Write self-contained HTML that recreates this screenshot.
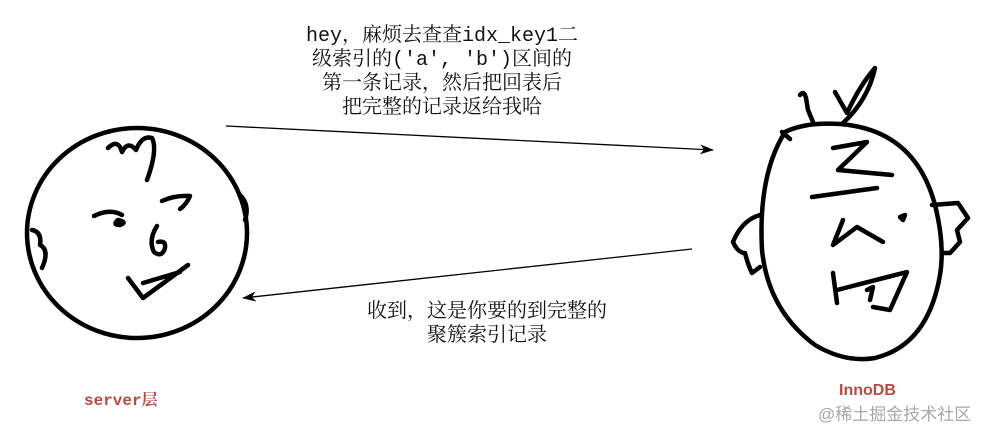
<!DOCTYPE html>
<html><head><meta charset="utf-8"><style>
body{margin:0;width:994px;height:437px;background:#fff;overflow:hidden;position:relative}
.t{position:absolute;font-family:"Liberation Mono","Noto Serif CJK SC",serif;font-size:20px;line-height:24px;color:#111;text-align:center;white-space:nowrap}
.l{position:absolute;font-family:"Liberation Mono","Noto Sans CJK SC",monospace;font-weight:bold;color:#b84a40;font-size:16px}
</style></head><body>
<svg width="994" height="437" style="position:absolute;left:0;top:0">
<defs><marker id="a" markerWidth="14" markerHeight="10" refX="13" refY="5" orient="auto" markerUnits="userSpaceOnUse"><path d="M0,0 L14,5 L0,10 L4,5 z" fill="#000"/></marker></defs>
<g fill="none" stroke="#000" stroke-width="4.5" stroke-linecap="round" stroke-linejoin="round">
<ellipse cx="137" cy="233" rx="110" ry="105"/>
<path d="M108,148 Q118,138 122,152 Q128,140 136,150 Q142,135 152,138 Q158,150 147,180"/>
<path d="M94,216 Q110,208 122,215 M118,220 Q112,225 120,225 Q128,222 118,220"/>
<path d="M162,201 Q175,195 190,196 Q186,205 180,209"/>
<path d="M157,226 Q148,240 154,252 Q162,258 165,248 Q166,240 158,242"/>
<path d="M128,278 L143,298 L188,265 M143,283 L180,272"/>
<path d="M32,230 Q42,232 40,245 Q50,250 42,268"/>
<path d="M240,195 Q250,205 245,220"/>
<path d="M785,132 Q805,122 840,124 Q915,130 935,205 Q945,245 940,275 Q928,345 875,358 Q845,363 815,345 Q768,310 762,250 Q758,175 785,132 Z"/>
<path d="M800,95 Q804,90 806,98 L808,110 L813,122"/>
<path d="M782,132 L790,139"/>
<path d="M835,92 L847,113 Q860,85 875,68 Q868,100 843,123"/>
<path d="M833,148 L867,142 L838,170 L892,175"/>
<path d="M812,197 L877,188"/>
<path d="M843,220 L833,245 L857,227 L883,242"/>
<path d="M900,217 L905,215 L903,220 Z"/>
<path d="M833,273 L837,303 M837,290 L907,272 L890,310 L873,307"/>
<path d="M867,290 L873,287 L870,300"/>
<path d="M760,215 Q742,220 733,242 Q738,253 745,253 Q748,265 752,273 L760,267"/>
<path d="M932,205 L958,203 L968,218 L957,230 L960,242 L950,253 L943,253"/>
</g>
<g stroke="#000" stroke-width="1.3">
<line x1="226" y1="126" x2="713" y2="150" marker-end="url(#a)"/>
<line x1="692" y1="249" x2="243" y2="298" marker-end="url(#a)"/>
</g>
</svg>
<div class="t" style="left:300px;top:25px;width:284px">hey，麻烦去查查idx_key1二<br>级索引的('a', 'b')区间的<br>第一条记录，然后把回表后<br>把完整的记录返给我哈</div>
<div class="t" style="left:350px;top:301px;width:274px">收到，这是你要的到完整的<br>聚簇索引记录</div>
<div class="l" style="left:84px;top:387px">server<span style="font-family:'Noto Serif CJK SC',serif">层</span></div>
<div class="l" style="left:839px;top:382px;font-family:'Liberation Sans',sans-serif;font-size:16px">InnoDB</div>
<div style="position:absolute;left:818px;top:400px;font-family:'Liberation Sans','Noto Sans CJK SC',sans-serif;font-size:17px;color:#a8a8a8">@稀土掘金技术社区</div>
</body></html>
